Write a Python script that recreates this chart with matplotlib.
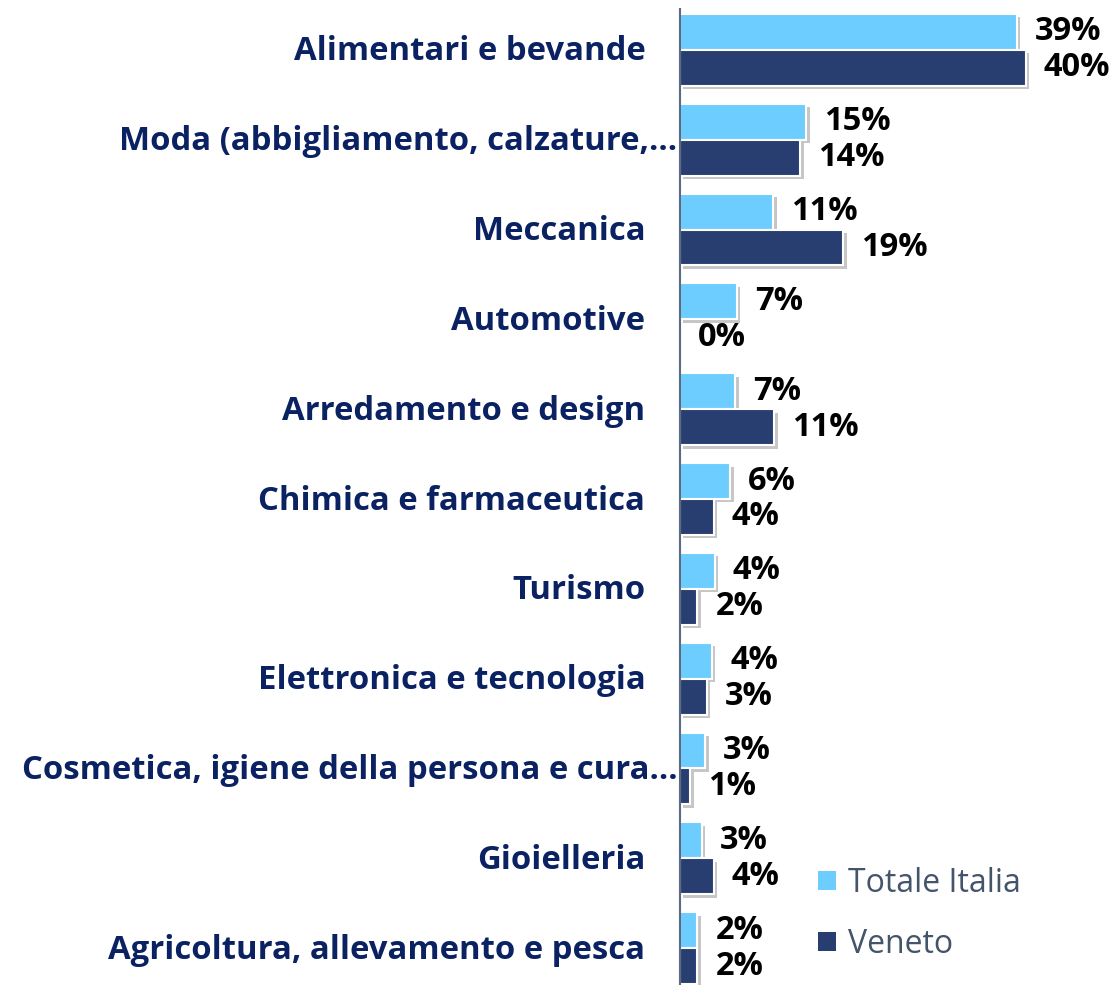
import matplotlib
matplotlib.use("Agg")
import matplotlib.pyplot as plt
import matplotlib.patheffects as pe
from matplotlib.patches import Patch
import numpy as np

categories = [
    "Alimentari e bevande",
    "Moda (abbigliamento, calzature,…",
    "Meccanica",
    "Automotive",
    "Arredamento e design",
    "Chimica e farmaceutica",
    "Turismo",
    "Elettronica e tecnologia",
    "Cosmetica, igiene della persona e cura…",
    "Gioielleria",
    "Agricoltura, allevamento e pesca",
]
truncated = [False, True, False, False, False, False, False, False, True, False, False]
totale_italia = [39.0, 14.6, 10.8, 6.6, 6.4, 5.8, 4.0, 3.7, 2.9, 2.5, 2.0]
veneto = [40.0, 13.9, 18.9, 0.0, 10.9, 3.9, 2.0, 3.1, 1.2, 3.9, 2.0]
totale_labels = ["39%", "15%", "11%", "7%", "7%", "6%", "4%", "4%", "3%", "3%", "2%"]
veneto_labels = ["40%", "14%", "19%", "0%", "11%", "4%", "2%", "3%", "1%", "4%", "2%"]
series_names = ["Totale Italia", "Veneto"]

C_LIGHT = "#6DCDFE"
C_DARK = "#283D70"
LABEL_COLOR = "#0B2262"
FONT = "Open Sans"

W, H = 1114, 985
fig = plt.figure(figsize=(W / 100, H / 100), dpi=100)
ax = fig.add_axes([680 / W, (985 - 993) / H, (W - 680) / W, 988 / H])

y = np.arange(len(categories))
shadow = [pe.SimplePatchShadow(offset=(2.5, -2.5), shadow_rgbFace="#a0a0a0", alpha=0.6), pe.Normal()]
b1 = ax.barh(y - 0.2, totale_italia, height=0.4, color=C_LIGHT, edgecolor="white", linewidth=1.5)
b2 = ax.barh(y + 0.2, veneto, height=0.4, color=C_DARK, edgecolor="white", linewidth=1.5)
for b in list(b1) + list(b2):
    if b.get_width() > 0:
        b.set_path_effects(shadow)

for vals, labels, off in ((totale_italia, totale_labels, -0.2), (veneto, veneto_labels, 0.2)):
    for yi, v, lab in zip(y, vals, labels):
        ax.annotate(lab, xy=(v, yi + off), xytext=(13, 0), textcoords="offset points",
                    ha="left", va="center", fontsize=23.5, fontweight="bold", color="black",
                    family=FONT)

for yi, cat, tr in zip(y, categories, truncated):
    ax.annotate(cat, xy=(0, yi), xycoords=("axes fraction", "data"),
                xytext=(-2 if tr else -25, -1.5), textcoords="offset points",
                ha="right", va="center", fontsize=23.7, fontweight="bold",
                color=LABEL_COLOR, family=FONT, annotation_clip=False)

ax.set_xlim(0, (W - 680) / 8.64)
ax.set_ylim(len(categories) - 0.5, -0.5)
ax.set_xticks([])
ax.set_yticks([])
for s in ("top", "right", "bottom"):
    ax.spines[s].set_visible(False)
ax.spines["left"].set_color("#5A6A80")
ax.spines["left"].set_linewidth(1.5)
ax.spines["left"].set_bounds(len(categories) - 0.5, -0.45)

handles = [Patch(facecolor=C_LIGHT, label=series_names[0]), Patch(facecolor=C_DARK, label=series_names[1])]
leg = fig.legend(handles=handles, loc="center left", bbox_to_anchor=(789 / W, 1 - 914 / H),
                 frameon=False, handlelength=0.56, handleheight=0.56, handletextpad=0.4,
                 labelspacing=0.88, prop={"family": FONT, "size": 23})
for t in leg.get_texts():
    t.set_color("#44546A")

fig.savefig("out.png", dpi=100)
